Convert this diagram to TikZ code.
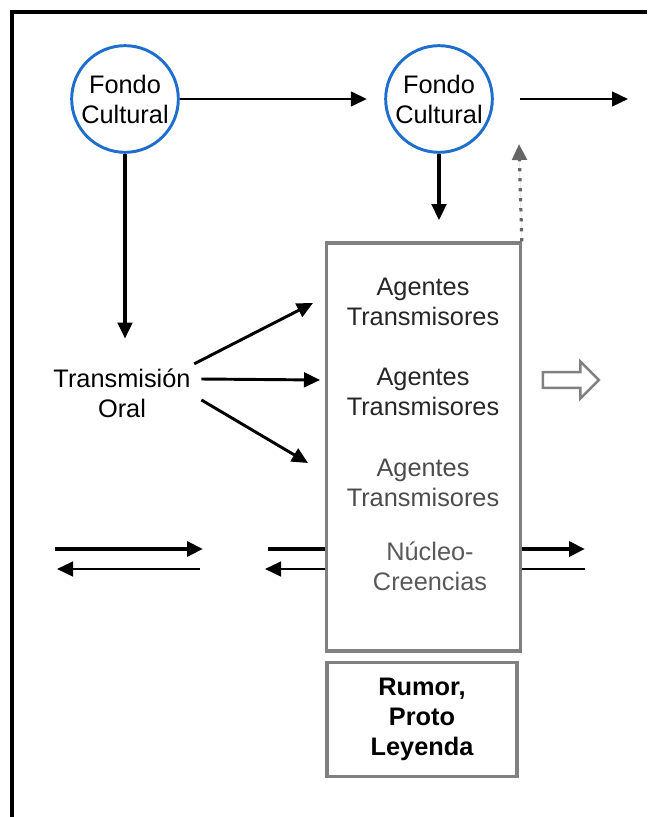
\documentclass[tikz,border=0pt]{standalone}
\usepackage{fontspec}
\setmainfont{Liberation Sans}
\usetikzlibrary{positioning, arrows.meta, shapes.arrows}
\definecolor{fondoazul}{RGB}{30,110,205}
\definecolor{cajagris}{RGB}{128,128,128}
\newcommand{\tamano}{\fontsize{19}{22.5}\selectfont}

\begin{document}
\begin{tikzpicture}[
		x=0.75pt, y=-0.75pt,
		>={Triangle[length=12pt, width=11pt]},
		fondo/.style={draw=fondoazul, circle, line width=2.2pt, inner sep=0pt, minimum size=80pt, align=center, font=\tamano},
		caja/.style={draw=cajagris, rectangle, line width=2.4pt, align=center, font=\tamano},
		texto/.style={align=center, font=\tamano},
		flecha/.style={->, line width=1.8pt},
	]
	\useasboundingbox (0,0) rectangle (647,817);
	\draw[line width=3pt] (647,12) -- (12,12) -- (12,817);

	\node[fondo] (fondoA) at (125,99) {Fondo\\Cultural};
	\node[fondo] (fondoB) at (439,99) {Fondo\\Cultural};
	\node[texto, text width=112pt] (transmision) at (122,393) {Transmisión\\Oral};
	\node[caja, minimum width=145pt, minimum height=306pt] (caja) at (423.5,447) {};
	\node[caja, minimum width=142.5pt, minimum height=85pt, font=\tamano\bfseries] (rumor) at (422,719.5) {Rumor,\\Proto\\Leyenda};

	\node[texto, text=black!85] (agente1) at (423,302) {Agentes\\Transmisores};
	\node[texto, text=black!85] (agente2) at (423,392) {Agentes\\Transmisores};
	\node[texto, text=black!70] (agente3) at (423,483) {Agentes\\Transmisores};
	\node[texto, text=black!65] (creencias) at (430,566) {Núcleo-\\Creencias};
	\node[single arrow, draw=cajagris, line width=1.8pt, inner sep=5pt, single arrow head extend=8pt, minimum height=42pt] (salto) at (567,380) {};

	\coordinate (salida) at (628,99);
	\coordinate (retorno) at (519,144);
	\coordinate (ag1) at (313,303);
	\coordinate (ag2) at (320,380);
	\coordinate (ag3) at (308,463);
	\coordinate (izqA) at (55,549);
	\coordinate (izqB) at (203,549);
	\coordinate (izqC) at (200,569);
	\coordinate (izqD) at (57,569);
	\coordinate (medA) at (268,549);
	\coordinate (medB) at (265,569);
	\coordinate (derA) at (585,549);
	\coordinate (derB) at (585,569);

	\draw[flecha, shorten >=13pt] (fondoA) -- (fondoB);
	\draw[flecha, shorten <=20pt] (fondoB.east) -- (salida);
	\draw[flecha, line width=2.4pt, shorten >=19pt] (fondoA.south) -- (fondoA.south |- transmision.north);
	\draw[flecha, line width=2.4pt, shorten >=16pt] (fondoB.south) -- (fondoB.south |- caja.north);
	\draw[flecha, dash pattern=on 2.5pt off 5pt, draw=black!60, fill=black!60, line width=2.4pt] (caja.north east) -- (retorno);

	\draw[flecha, line width=2.2pt] (transmision.22) -- (ag1);
	\draw[flecha, line width=2.2pt] (transmision.10) -- (ag2);
	\draw[flecha, line width=2.2pt] (transmision.-5) -- (ag3);

	\draw[flecha, line width=3.2pt] (izqA) -- (izqB);
	\draw[flecha] (izqC) -- (izqD);
	\draw[line width=3.2pt] (medA) -- (caja.west |- medA);
	\draw[flecha] (caja.west |- medB) -- (medB);
	\draw[flecha, line width=3.2pt] (caja.east |- derA) -- (derA);
	\draw[line width=1.8pt] (caja.east |- derB) -- (derB);
\end{tikzpicture}
\end{document}
